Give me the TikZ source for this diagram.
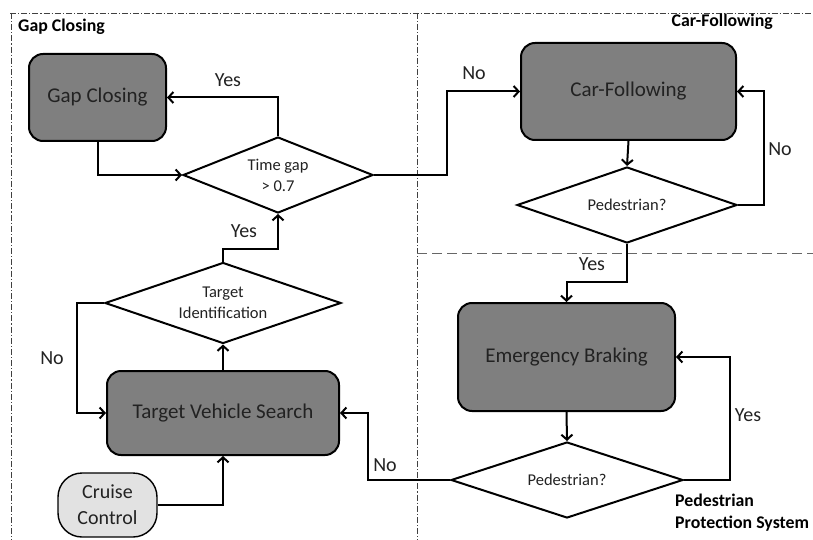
\documentclass[tikz,border=0pt]{standalone}
\usepackage{fontspec}
\setmainfont{Carlito}
\usetikzlibrary{arrows.meta,shapes.geometric}

\definecolor{boxgray}{HTML}{7F7F7F}
\definecolor{ccgray}{HTML}{E2E2E2}
\definecolor{txtdark}{HTML}{222222}

\tikzset{
  proc/.style={draw=black, line width=2pt, fill=boxgray, rounded corners=14pt,
    inner sep=0pt, text=txtdark, font=\fontsize{21}{24}\selectfont},
  decide/.style={draw=black, line width=2pt, fill=white, diamond, aspect=2.5,
    inner sep=0pt, text=txtdark, align=center, font=\fontsize{16.5}{21}\selectfont},
  startbox/.style={draw=black, line width=1.4pt, fill=ccgray, rounded corners=24pt,
    inner sep=0pt, align=center, text=txtdark, font=\fontsize{20}{26}\selectfont},
  arr/.style={line width=2pt, -{Straight Barb[length=5pt,width=11pt,line width=2pt]}},
  lbl/.style={font=\fontsize{20}{24}\selectfont, text=txtdark, inner sep=0pt},
  zonehead/.style={font=\bfseries\fontsize{17.8}{22}\selectfont, inner sep=0pt},
  zoneline/.style={line width=0.8pt, black!75, dash pattern=on 6pt off 2pt on 1.2pt off 2pt},
  zonedash/.style={line width=0.8pt, black!60, dash pattern=on 10pt off 5pt},
}

\begin{document}
\begin{tikzpicture}[x=1pt, y=-1pt]
\useasboundingbox (0,0) rectangle (813,540);

% zone separators
\draw[zoneline] (10,13) -- (813,13);
\draw[zoneline] (11,13) -- (11,540);
\draw[zoneline] (417,13) -- (417,540);
\draw[zonedash] (417,253) -- (813,253);

% zone headings
\node[zonehead, anchor=west] (hgap) at (18,27) {Gap Closing};
\node[zonehead, anchor=east] (hcar) at (773,22) {Car-Following};
\node[zonehead, anchor=north west, align=left] (hped) at (675,494) {Pedestrian\\Protection System};

% process boxes
\node[proc, minimum width=137pt, minimum height=87pt] (gc) at (97.5,97.5) {Gap Closing};
\node[proc, minimum width=232pt, minimum height=84pt] (tvs) at (223,413) {Target Vehicle Search};
\node[proc, minimum width=215pt, minimum height=97pt] (cf) at (628.5,91.5) {Car-Following};
\node[proc, minimum width=217pt, minimum height=108pt] (eb) at (566.5,357) {Emergency Braking};
\node[startbox, minimum width=99pt, minimum height=64pt] (cc) at (107.5,505) {Cruise\\Control};

% decisions
\node[decide, minimum width=190pt, minimum height=76pt] (tc) at (278,175) {Time gap\\{>} 0.7};
\node[decide, minimum width=236pt, minimum height=81pt] (ti) at (223,303) {Target\\Identification};
\node[decide, minimum width=220pt, minimum height=76pt] (pc) at (627,205) {Pedestrian?};
\node[decide, minimum width=232pt, minimum height=76pt] (pb) at (567,480) {Pedestrian?};

% bend points
\coordinate (j1) at (223,249);
\coordinate (j2) at (77,303);
\coordinate (j3) at (368,480);
\coordinate (j4) at (447,175);
\coordinate (j5) at (764,205);
\coordinate (j6) at (627,282);
\coordinate (j7) at (730,480);

% connectors
\draw[arr] (tc.north) |- (gc.east);
\draw[arr] (gc.south) |- (tc.west);
\draw[arr] (ti.north) -- (j1) -| (tc.south);
\draw[arr] (tvs.north) -- (ti.south);
\draw[arr] (ti.west) -- (j2) |- (tvs.west);
\draw[arr] (cc.east) -| (tvs.south);
\draw[arr] (pb.west) -- (j3) |- (tvs.east);
\draw[arr] (tc.east) -- (j4) |- (cf.west);
\draw[arr] (cf.south) -- (pc.north);
\draw[arr] (pc.east) -- (j5) |- (cf.east);
\draw[arr] (pc.south) -- (j6) -| (eb.north);
\draw[arr] (eb.south) -- (pb.north);
\draw[arr] (pb.east) -- (j7) |- (eb.east);

% branch labels
\node[lbl] (l1) at (228,80) {Yes};
\node[lbl] (l2) at (244,231) {Yes};
\node[lbl] (l3) at (52,358) {No};
\node[lbl] (l4) at (385,465) {No};
\node[lbl] (l5) at (474,73) {No};
\node[lbl] (l6) at (780,149) {No};
\node[lbl] (l7) at (592,264) {Yes};
\node[lbl] (l8) at (748,415) {Yes};
\end{tikzpicture}
\end{document}
